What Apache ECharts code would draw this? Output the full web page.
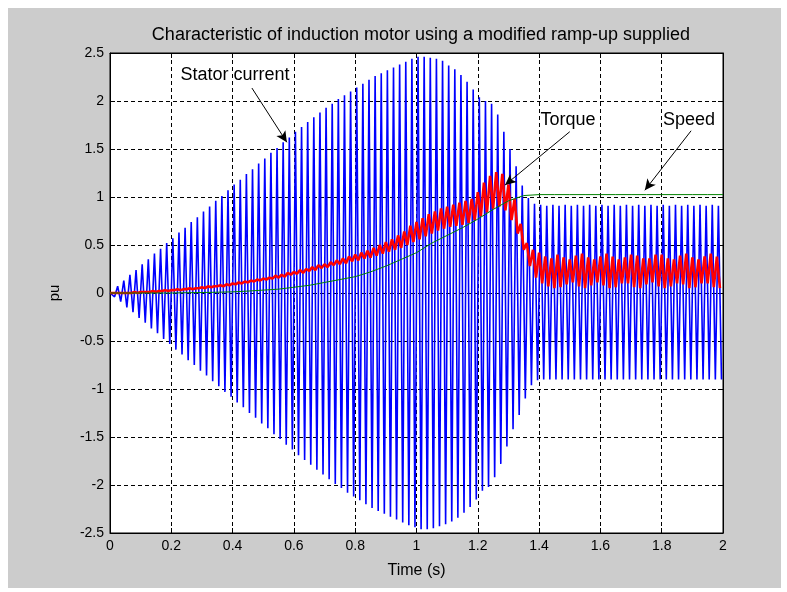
<!DOCTYPE html>
<html>
<head>
<meta charset="utf-8">
<title>Induction motor ramp-up</title>
<script src="https://cdn.jsdelivr.net/npm/echarts@6/dist/echarts.min.js"></script>
<style>
  html, body { margin: 0; padding: 0; background: #fff; }
  #wrap { position: relative; width: 787px; height: 592px; background: #fff; }
  #figbg { position: absolute; left: 8px; top: 8px; width: 773px; height: 580px; background: #cccccc; }
  #chart { position: absolute; left: 0; top: 0; width: 787px; height: 592px; }
</style>
</head>
<body>
<div id="wrap">
  <div id="figbg"></div>
  <div id="chart"></div>
</div>
<script>
// supply period (50 Hz) and sample steps, seconds
const currentPeriod = 0.02;
const torqueStep = 0.02;
const speedStep = 0.05;

// stator current: positive peak of every cycle (pu)
const currentPeaks = [
  0.02, 0.07, 0.13, 0.19, 0.24, 0.30, 0.35, 0.41, 0.46, 0.52,
  0.57, 0.63, 0.68, 0.74, 0.79, 0.85, 0.90, 0.96, 1.01, 1.07,
  1.13, 1.18, 1.24, 1.29, 1.35, 1.40, 1.46, 1.51, 1.57, 1.62,
  1.68, 1.73, 1.78, 1.83, 1.88, 1.93, 1.97, 2.02, 2.06, 2.10,
  2.14, 2.18, 2.22, 2.26, 2.29, 2.32, 2.35, 2.38, 2.41, 2.44,
  2.46, 2.46, 2.45, 2.44, 2.42, 2.37, 2.33, 2.27, 2.20, 2.12,
  2.04, 2.00, 1.97, 1.86, 1.68, 1.50, 1.32, 1.12, 0.99, 0.93,
  0.92, 0.91, 0.92, 0.91, 0.92, 0.91, 0.92, 0.91, 0.92, 0.91,
  0.92, 0.91, 0.92, 0.91, 0.92, 0.91, 0.92, 0.91, 0.92, 0.91,
  0.92, 0.91, 0.92, 0.91, 0.92, 0.91, 0.92, 0.91, 0.92, 0.91
];
// stator current: negative peak of every cycle (pu)
const currentTroughs = [
  -0.04, -0.09, -0.15, -0.20, -0.26, -0.31, -0.37, -0.42, -0.48, -0.53,
  -0.59, -0.64, -0.70, -0.75, -0.81, -0.86, -0.92, -0.97, -1.03, -1.08,
  -1.14, -1.19, -1.25, -1.30, -1.36, -1.41, -1.47, -1.52, -1.58, -1.63,
  -1.69, -1.74, -1.79, -1.84, -1.89, -1.94, -1.99, -2.03, -2.08, -2.12,
  -2.16, -2.20, -2.24, -2.27, -2.30, -2.33, -2.36, -2.39, -2.42, -2.44,
  -2.46, -2.46, -2.45, -2.43, -2.41, -2.38, -2.34, -2.29, -2.23, -2.15,
  -2.06, -2.02, -1.92, -1.78, -1.60, -1.42, -1.27, -1.10, -0.96, -0.91,
  -0.90, -0.90, -0.90, -0.90, -0.90, -0.90, -0.90, -0.90, -0.90, -0.90,
  -0.90, -0.90, -0.90, -0.90, -0.90, -0.90, -0.90, -0.90, -0.90, -0.90,
  -0.90, -0.90, -0.90, -0.90, -0.90, -0.90, -0.90, -0.90, -0.90, -0.90
];

// torque ripple: upper and lower edge of the red band, every 0.02 s (pu)
const torqueHigh = [
  0.00, 0.00, 0.00, 0.00, 0.01, 0.01, 0.01, 0.02, 0.02, 0.03,
  0.03, 0.04, 0.04, 0.05, 0.05, 0.06, 0.07, 0.07, 0.08, 0.09,
  0.10, 0.11, 0.12, 0.13, 0.14, 0.15, 0.16, 0.18, 0.19, 0.21,
  0.22, 0.24, 0.25, 0.27, 0.29, 0.30, 0.32, 0.34, 0.36, 0.38,
  0.40, 0.42, 0.44, 0.47, 0.50, 0.53, 0.56, 0.60, 0.64, 0.70,
  0.74, 0.78, 0.82, 0.85, 0.88, 0.90, 0.92, 0.94, 0.96, 0.98,
  1.05, 1.15, 1.22, 1.26, 1.24, 1.13, 0.98, 0.72, 0.52, 0.45,
  0.42, 0.38, 0.36, 0.40, 0.37, 0.35, 0.39, 0.41, 0.37, 0.35,
  0.38, 0.41, 0.38, 0.35, 0.37, 0.40, 0.39, 0.36, 0.36, 0.40,
  0.40, 0.36, 0.35, 0.39, 0.41, 0.37, 0.35, 0.38, 0.41, 0.38
];
const torqueLow = [
  0.00, 0.00, 0.00, 0.00, 0.00, 0.01, 0.01, 0.01, 0.02, 0.02,
  0.03, 0.03, 0.04, 0.04, 0.05, 0.05, 0.06, 0.07, 0.07, 0.08,
  0.09, 0.10, 0.11, 0.12, 0.13, 0.14, 0.15, 0.16, 0.17, 0.19,
  0.20, 0.21, 0.23, 0.24, 0.26, 0.27, 0.29, 0.30, 0.31, 0.33,
  0.34, 0.36, 0.37, 0.39, 0.41, 0.43, 0.45, 0.47, 0.50, 0.53,
  0.56, 0.59, 0.62, 0.65, 0.67, 0.69, 0.70, 0.71, 0.73, 0.76,
  0.80, 0.84, 0.88, 0.90, 0.86, 0.76, 0.62, 0.45, 0.28, 0.16,
  0.10, 0.07, 0.05, 0.06, 0.09, 0.11, 0.07, 0.05, 0.08, 0.11,
  0.08, 0.05, 0.06, 0.10, 0.10, 0.06, 0.05, 0.09, 0.11, 0.07,
  0.05, 0.07, 0.10, 0.09, 0.05, 0.06, 0.10, 0.10, 0.06, 0.05
];

// rotor speed every 0.05 s (pu)
const speedValues = [
  0.000, 0.000, 0.000, 0.000, 0.000, 0.003, 0.005, 0.008, 0.012, 0.020,
  0.030, 0.040, 0.060, 0.080, 0.110, 0.140, 0.170, 0.220, 0.280, 0.350,
  0.420, 0.520, 0.600, 0.680, 0.770, 0.870, 0.960, 1.015, 1.025, 1.025,
  1.025, 1.025, 1.025, 1.025, 1.025, 1.025, 1.025, 1.025, 1.025, 1.025,
  1.025
];

// text labels and arrows, in data units [time, pu]
const labelTexts = ["Stator current", "Torque", "Speed"];
const labelPos = [[0.408, 2.27], [1.494, 1.80], [1.889, 1.80]];
const arrowFrom = [[0.463, 2.135], [1.50, 1.68], [1.896, 1.69]];
const arrowTo = [[0.577, 1.57], [1.289, 1.125], [1.745, 1.07]];

const currentData = [[0, 0]];
currentPeaks.forEach((p, k) => {
  currentData.push([k * currentPeriod + currentPeriod / 4, p]);
  currentData.push([k * currentPeriod + currentPeriod * 3 / 4, currentTroughs[k]]);
});
const torqueData = [];
torqueHigh.forEach((h, k) => {
  torqueData.push([k * torqueStep, h]);
  torqueData.push([k * torqueStep + torqueStep / 2, torqueLow[k]]);
});
const speedData = speedValues.map((v, k) => [k * speedStep, v]);

const FONT = "'Liberation Sans', Arial, sans-serif";
const gridDash = { color: "#000", width: 1, type: [4, 3] };

const chart = echarts.init(document.getElementById("chart"), null, { renderer: "canvas" });
chart.setOption({
  animation: false,
  backgroundColor: "transparent",
  textStyle: { fontFamily: FONT },
  title: {
    text: "Characteristic of induction motor using a modified ramp-up supplied",
    left: 416, top: 21, textAlign: "center",
    textStyle: { fontFamily: FONT, fontSize: 18, fontWeight: "normal", color: "#000" }
  },
  grid: {
    left: 110, top: 53, right: 64, bottom: 59,
    show: true, backgroundColor: "#fff", borderColor: "#000", borderWidth: 1
  },
  xAxis: [{
    type: "value", min: 0, max: 2, interval: 0.2,
    name: "Time (s)", nameLocation: "middle", nameGap: 30,
    nameTextStyle: { fontFamily: FONT, fontSize: 16, color: "#000" },
    axisLine: { onZero: false, lineStyle: { color: "#000" } },
    axisTick: { inside: true, length: 5, lineStyle: { color: "#000" } },
    axisLabel: { fontFamily: FONT, fontSize: 14, color: "#000", margin: 6 },
    splitLine: { show: true, lineStyle: gridDash }
  }, {
    type: "value", min: 0, max: 2, interval: 0.2, position: "top",
    axisLine: { onZero: false, lineStyle: { color: "#000" } },
    axisTick: { inside: true, length: 5, lineStyle: { color: "#000" } },
    axisLabel: { show: false }, splitLine: { show: false }
  }],
  yAxis: [{
    type: "value", min: -2.5, max: 2.5, interval: 0.5,
    name: "pu", nameLocation: "middle", nameGap: 48, nameRotate: 90,
    nameTextStyle: { fontFamily: FONT, fontSize: 15, color: "#000" },
    axisLine: { onZero: false, lineStyle: { color: "#000" } },
    axisTick: { inside: true, length: 5, lineStyle: { color: "#000" } },
    axisLabel: { fontFamily: FONT, fontSize: 14, color: "#000", margin: 6 },
    splitLine: { show: true, lineStyle: gridDash }
  }, {
    type: "value", min: -2.5, max: 2.5, interval: 0.5, position: "right",
    axisLine: { onZero: false, lineStyle: { color: "#000" } },
    axisTick: { inside: true, length: 5, lineStyle: { color: "#000" } },
    axisLabel: { show: false }, splitLine: { show: false }
  }],
  series: [
    {
      name: "Stator current", type: "line", data: currentData,
      showSymbol: false, silent: true,
      lineStyle: { color: "#0000ff", width: 1.6 }
    },
    {
      name: "Torque", type: "line", data: torqueData,
      showSymbol: false, silent: true,
      lineStyle: { color: "#ff0000", width: 2.6 }
    },
    {
      name: "Speed", type: "line", data: speedData,
      showSymbol: false, silent: true,
      lineStyle: { color: "#008000", width: 1 },
      markLine: {
        silent: true, animation: false,
        symbol: ["none", "arrow"], symbolSize: [8, 11],
        label: { show: false },
        lineStyle: { color: "#000", width: 1, type: "solid" },
        data: arrowFrom.map((a, i) => [{ coord: a }, { coord: arrowTo[i] }])
      }
    }
  ]
});

// place the text labels from their data positions
chart.setOption({
  graphic: labelTexts.map((t, i) => {
    const p = chart.convertToPixel({ gridIndex: 0 }, labelPos[i]);
    return {
      type: "text", x: p[0], y: p[1], z: 100,
      style: {
        text: t, fill: "#000", font: "18px " + FONT,
        textAlign: "center", textVerticalAlign: "middle"
      }
    };
  })
});
</script>
</body>
</html>
